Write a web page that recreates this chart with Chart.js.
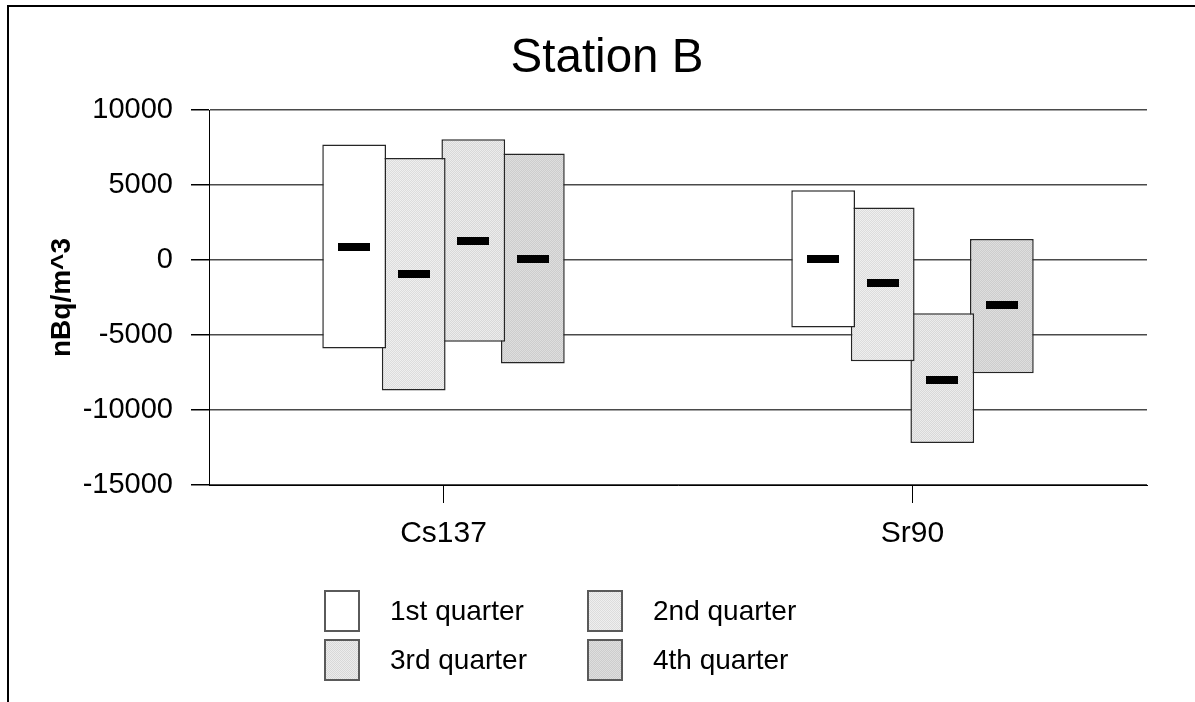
<!DOCTYPE html>
<html>
<head>
<meta charset="utf-8">
<script src="https://cdn.jsdelivr.net/npm/chart.js@4.4.1/dist/chart.umd.min.js"></script>
<style>
  html, body { margin: 0; padding: 0; background: #fff; overflow: hidden; }
  #wrap { position: absolute; left: 0; top: 0; width: 1213px; height: 702px; }
  #frame { position: absolute; left: 7px; top: 5px; width: 1200px; height: 700px;
           border-left: 2px solid #000; border-top: 2px solid #000; pointer-events: none; }
  .item { position: absolute; display: flex; align-items: center; height: 42px;
          font: 28px "Liberation Sans", Arial, sans-serif; color: #000; white-space: nowrap; }
  .box { width: 36px; height: 42px; box-sizing: border-box; border: 2px solid #5a5a5a;
         margin-right: 30px; }
</style>
</head>
<body>
<div id="wrap"><canvas id="chart"></canvas></div>
<div id="frame"></div>
<div id="legend"></div>
<script>
const categories = ['Cs137', 'Sr90'];
const quarterNames = ['1st quarter', '2nd quarter', '3rd quarter', '4th quarter'];

// range (low..high) and mean per quarter, one value per category
const q1Low = [-5900, -4500];
const q1High = [7700, 4650];
const q1Mean = [900, 50];
const q2Low = [-8700, -6750];
const q2High = [6800, 3500];
const q2Mean = [-900, -1500];
const q3Low = [-5450, -12200];
const q3High = [8050, -3550];
const q3Mean = [1300, -8000];
const q4Low = [-6900, -7550];
const q4High = [7100, 1400];
const q4Mean = [50, -3000];

const yTicks = [-15000, -10000, -5000, 0, 5000, 10000];

const lows = [q1Low, q2Low, q3Low, q4Low];
const highs = [q1High, q2High, q3High, q4High];
const means = [q1Mean, q2Mean, q3Mean, q4Mean];

const FONT = '"Liberation Sans", Arial, sans-serif';
const canvas = document.getElementById('chart');
const ctx = canvas.getContext('2d');

function makePattern(base, dot) {
    let c = document.createElement('canvas');
    c.width = 2;
    c.height = 2;
    let g = c.getContext('2d');
    g.fillStyle = base;
    g.fillRect(0, 0, 2, 2);
    g.fillStyle = dot;
    g.fillRect(1, 0, 1, 1);
    g.fillRect(0, 1, 1, 1);
    return {fill: ctx.createPattern(c, 'repeat'), css: 'url(' + c.toDataURL() + ')'};
}

const fills = [
    {fill: '#ffffff', css: '#ffffff'},
    makePattern('#efefef', '#dcdcdc'),
    makePattern('#ececec', '#d8d8d8'),
    makePattern('#dedede', '#cdcdcd')
];

const meanMarks = {
    id: 'meanMarks',
    afterDatasetsDraw(chart) {
        const c = chart.ctx;
        const y = chart.scales.y;
        c.save();
        c.fillStyle = '#000';
        chart.data.datasets.forEach((ds, i) => {
            chart.getDatasetMeta(i).data.forEach((bar, j) => {
                const py = y.getPixelForValue(means[i][j]);
                c.fillRect(Math.round(bar.x - 16), Math.round(py - 4), 32, 8);
            });
        });
        c.restore();
    }
};

const chart = new Chart(ctx, {
    type: 'bar',
    data: {
        labels: categories,
        datasets: quarterNames.map((name, i) => ({
            label: name,
            data: categories.map((_, j) => [lows[i][j], highs[i][j]]),
            backgroundColor: fills[i].fill,
            borderColor: '#252525',
            borderWidth: 1.5,
            borderSkipped: false,
            categoryPercentage: 0.508,
            barPercentage: 1.07
        }))
    },
    options: {
        responsive: true,
        maintainAspectRatio: false,
        animation: false,
        layout: {padding: {left: 67, right: 66, top: 0, bottom: 157}},
        plugins: {
            legend: {display: false},
            tooltip: {enabled: false},
            title: {
                display: true,
                text: 'Station B',
                color: '#000',
                font: {family: FONT, size: 47.5, weight: 'normal'},
                padding: {top: 30, bottom: 23}
            }
        },
        scales: {
            x: {
                afterFit(scale) { scale.height = 60; },
                grid: {display: true, drawOnChartArea: false, offset: false,
                       tickLength: 18, tickColor: '#000'},
                border: {color: '#000', width: 1},
                ticks: {color: '#000', padding: 13, font: {family: FONT, size: 30}}
            },
            y: {
                min: -15000,
                max: 10000,
                afterFit(scale) { scale.width = 142; },
                afterBuildTicks(scale) { scale.ticks = yTicks.map(v => ({value: v})); },
                grid: {color: '#4a4a4a', lineWidth: 1.5, tickLength: 18, tickColor: '#000'},
                border: {color: '#000', width: 1},
                ticks: {color: '#000', padding: 18, font: {family: FONT, size: 29},
                        callback: v => String(v)},
                title: {display: true, text: 'nBq/m^3', color: '#000',
                        font: {family: FONT, size: 28, weight: 'bold'},
                        padding: {top: -22, bottom: 0}}
            }
        }
    },
    plugins: [meanMarks]
});

// 2 x 2 legend below the plot
const legendCols = [324, 587];
const legendRows = [590, 639];
const legend = document.getElementById('legend');
chart.data.datasets.forEach((ds, i) => {
    let item = document.createElement('div');
    item.className = 'item';
    item.style.left = legendCols[i % 2] + 'px';
    item.style.top = legendRows[Math.floor(i / 2)] + 'px';
    let box = document.createElement('span');
    box.className = 'box';
    box.style.background = fills[i].css;
    let txt = document.createElement('span');
    txt.textContent = ds.label;
    item.appendChild(box);
    item.appendChild(txt);
    legend.appendChild(item);
});
</script>
</body>
</html>
